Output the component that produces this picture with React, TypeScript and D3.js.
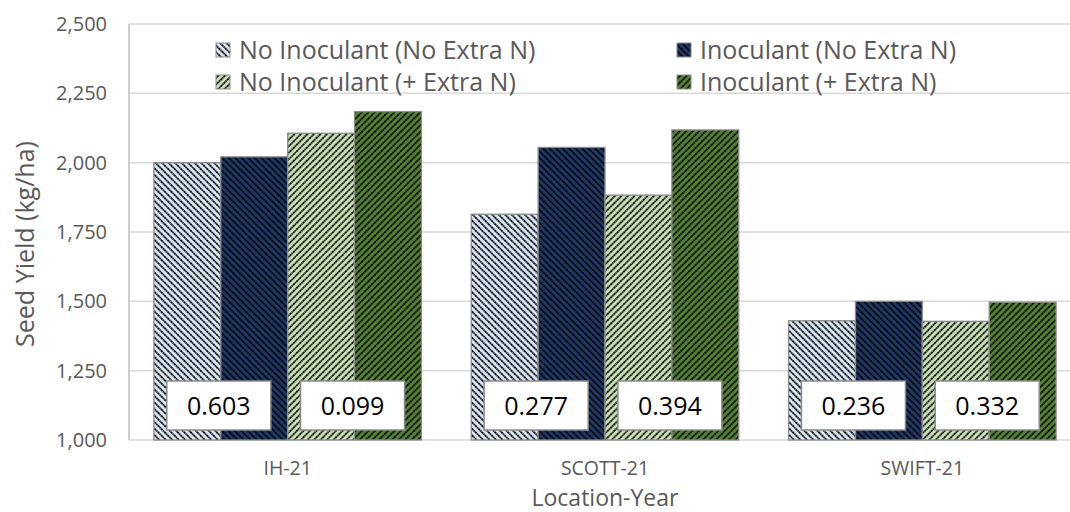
import React from 'react';
import * as d3 from 'd3';

const locations = ['IH-21', 'SCOTT-21', 'SWIFT-21'];
const seriesNames = [
  'No Inoculant (No Extra N)',
  'Inoculant (No Extra N)',
  'No Inoculant (+ Extra N)',
  'Inoculant (+ Extra N)',
];
const noInocNoN = [2000, 1814, 1430];
const inocNoN = [2021, 2055, 1500];
const noInocPlusN = [2106, 1883, 1428];
const inocPlusN = [2184, 2118, 1497];
const pNoN = ['0.603', '0.277', '0.236'];
const pPlusN = ['0.099', '0.394', '0.332'];
const yTicks = [1000, 1250, 1500, 1750, 2000, 2250, 2500];

const fills = ['#dbe8f6', '#1f3864', '#c9e3b7', '#548235'];
const angles = [-45, -45, 45, 45];
const font = '"Open Sans", Lato, sans-serif';

const W = 1070;
const H = 512;
const margin = { top: 24, left: 129, bottom: 72 };

export default function App() {
  const values = [noInocNoN, inocNoN, noInocPlusN, inocPlusN];

  const x0 = d3
    .scaleBand<string>()
    .domain(locations)
    .range([margin.left, 1081])
    .paddingInner(0.157)
    .paddingOuter(0.0785);
  const x1 = d3
    .scaleBand<number>()
    .domain([0, 1, 2, 3])
    .range([0, x0.bandwidth()]);
  const y = d3.scaleLinear().domain([1000, 2500]).range([H - margin.bottom, margin.top]);

  const boxW = 104;
  const boxH = 49;
  const boxY = 381;

  return (
    <div style={{ position: 'absolute', left: 0, top: 0 }}>
      <svg width={W} height={H} style={{ display: 'block', background: '#fff' }}>
        <defs>
          {fills.map((c, i) => (
            <pattern
              key={i}
              id={'hatch' + i}
              patternUnits="userSpaceOnUse"
              width={4.6}
              height={4.6}
              patternTransform={`rotate(${angles[i]})`}
            >
              <rect width={4.6} height={4.6} fill={c} />
              <line x1={1} y1={0} x2={1} y2={4.6} stroke="#000" strokeWidth={1.8} strokeDasharray="1.8 0.5" />
            </pattern>
          ))}
        </defs>

        {/* gridlines */}
        {yTicks.map((t) => (
          <line key={t} x1={margin.left} x2={W} y1={y(t)} y2={y(t)} stroke="#d9d9d9" strokeWidth={1.5} />
        ))}
        <line x1={margin.left} x2={margin.left} y1={y(2500)} y2={y(1000)} stroke="#bfbfbf" strokeWidth={1.5} />

        {/* y tick labels */}
        {yTicks.map((t) => (
          <text
            key={t}
            x={107}
            y={y(t)}
            dy="0.35em"
            textAnchor="end"
            fontFamily={font}
            fontSize={20}
            fill="#595959"
          >
            {d3.format(',')(t)}
          </text>
        ))}

        {/* bars */}
        {locations.map((loc, li) => (
          <g key={loc} transform={`translate(${x0(loc)},0)`}>
            {values.map((s, si) => (
              <rect
                key={si}
                x={x1(si)}
                y={y(s[li])}
                width={x1.bandwidth()}
                height={y(1000) - y(s[li])}
                fill={`url(#hatch${si})`}
                stroke="#8c8c8c"
                strokeWidth={1.3}
              />
            ))}
            {[pNoN, pPlusN].map((p, pi) => {
              const cx = (x1(pi * 2 + 1) as number) - 2;
              return (
                <g key={pi}>
                  <rect
                    x={cx - boxW / 2}
                    y={boxY}
                    width={boxW}
                    height={boxH}
                    fill="#fff"
                    stroke="#8c8c8c"
                    strokeWidth={1.5}
                  />
                  <text
                    x={cx}
                    y={boxY + boxH / 2}
                    dy="0.36em"
                    textAnchor="middle"
                    fontFamily={font}
                    fontSize={25}
                    fill="#000"
                  >
                    {p[li]}
                  </text>
                </g>
              );
            })}
          </g>
        ))}

        {/* x labels */}
        {locations.map((loc) => (
          <text
            key={loc}
            x={(x0(loc) as number) + x0.bandwidth() / 2}
            y={468}
            dy="0.35em"
            textAnchor="middle"
            fontFamily={font}
            fontSize={19.5}
            fill="#595959"
          >
            {loc}
          </text>
        ))}

        <text x={605} y={498} dy="0.35em" textAnchor="middle" fontFamily={font} fontSize={23} fill="#595959">
          Location-Year
        </text>
        <text
          transform="translate(25,244) rotate(-90)"
          dy="0.35em"
          textAnchor="middle"
          fontFamily={font}
          fontSize={25}
          fill="#595959"
        >
          Seed Yield (kg/ha)
        </text>

        {/* legend */}
        {seriesNames.map((name, i) => {
          const lx = i % 2 === 0 ? 216 : 677;
          const ly = i < 2 ? 50 : 82;
          return (
            <g key={name}>
              <rect x={lx} y={ly - 7} width={14} height={14} fill={`url(#hatch${i})`} stroke="#8c8c8c" strokeWidth={1} />
              <text x={lx + 23} y={ly} dy="0.35em" fontFamily={font} fontSize={25} fill="#595959">
                {name}
              </text>
            </g>
          );
        })}
      </svg>
    </div>
  );
}
